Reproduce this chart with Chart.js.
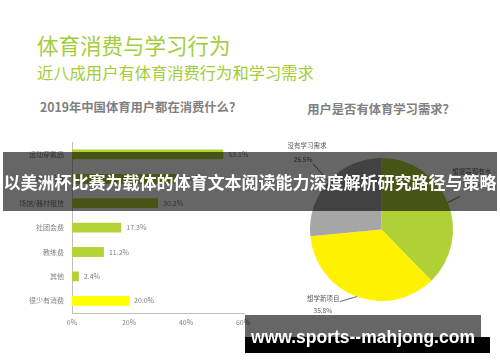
<!DOCTYPE html>
<html><head><meta charset="utf-8">
<script src="https://cdn.jsdelivr.net/npm/chart.js@4/dist/chart.umd.min.js"></script>
<style>
html,body{margin:0;padding:0;background:#fff;width:500px;height:362px;overflow:hidden;position:relative;font-family:"Noto Sans CJK SC","Noto Sans",sans-serif;}
.abs{position:absolute;white-space:nowrap;}
#t1{left:37px;top:33px;font-size:21.5px;line-height:24px;color:#a3cd3b;}
#t2{left:37px;top:63px;font-size:16.3px;line-height:19px;color:#a3cd3b;}
#bt{left:40px;top:99px;width:200px;text-align:center;font-size:12.3px;line-height:16px;font-weight:bold;color:#808080;}
#pt{left:281px;top:101px;width:200px;text-align:center;font-size:12.3px;line-height:16px;font-weight:bold;color:#808080;}
#barWrap{left:0;top:130px;width:260px;height:210px;}
#pieWrap{left:260px;top:140px;width:240px;height:180px;}
#banner{left:3px;top:152px;width:494px;height:59px;background:rgba(0,0,0,0.6);color:#fff;font-weight:bold;font-size:17px;line-height:59px;text-align:center;letter-spacing:0px;}
#wm1{left:245px;top:315px;width:236px;height:22px;background:rgba(0,0,0,0.6);}
#wm2{left:245px;top:337px;width:245px;height:16px;background:#000;}
#wmt{left:245px;top:326px;width:236px;text-align:center;color:#fff;font-family:"Liberation Sans",Arial,sans-serif;font-weight:bold;font-size:17.5px;line-height:22px;}
</style></head>
<body>
<div class="abs" id="t1">体育消费与学习行为</div>
<div class="abs" id="t2">近八成用户有体育消费行为和学习需求</div>
<div class="abs" id="bt">2019年中国体育用户都在消费什么？</div>
<div class="abs" id="pt">用户是否有体育学习需求？</div>
<div class="abs" id="barWrap"><canvas id="bar" width="260" height="210"></canvas></div>
<div class="abs" id="pieWrap"><canvas id="pie" width="240" height="180"></canvas></div>
<div class="abs" id="banner">以美洲杯比赛为载体的体育文本阅读能力深度解析研究路径与策略</div>
<div class="abs" id="wm1"></div>
<div class="abs" id="wm2"></div>
<div class="abs" id="wmt">www.sports--mahjong.com</div>
<script>
// ---- data ----
const barCategories = ['运动穿戴品','运动用具','场馆/器材租赁','社团会费','教练费','其他','很少有消费'];
const barValues = [53.1, 36.6, 30.2, 17.3, 11.2, 2.4, 20.0];
const barColors = ['#b3d236','#b3d236','#b3d236','#b3d236','#b3d236','#b3d236','#ffff00'];
const xTicks = [0, 20, 40, 60];

const pieLabels = ['想提高现有水', '想学新项目', '没有学习需求'];
const pieValues = [37.7, 35.8, 26.5];
const pieColors = ['#b0d136', '#fff200', '#a6a6a6'];

Chart.defaults.font.family = '"Noto Sans CJK SC","Noto Sans",sans-serif';

const barValuePlugin = {
  id: 'barValues',
  afterDatasetsDraw(chart) {
    const ctx = chart.ctx;
    const meta = chart.getDatasetMeta(0);
    ctx.save();
    ctx.font = '7px "Noto Sans CJK SC", sans-serif';
    ctx.fillStyle = '#7f7f7f';
    ctx.textAlign = 'left';
    ctx.textBaseline = 'middle';
    meta.data.forEach((el, i) => {
      ctx.fillText(barValues[i].toFixed(1) + '%', el.x + 5, el.y);
    });
    ctx.restore();
  }
};

new Chart(document.getElementById('bar'), {
  type: 'bar',
  data: {
    labels: barCategories,
    datasets: [{ data: barValues, backgroundColor: barColors, barPercentage: 0.4, categoryPercentage: 1 }]
  },
  options: {
    indexAxis: 'y',
    responsive: false,
    animation: false,
    layout: { padding: { top: 10, right: 17, left: 0, bottom: 0 } },
    plugins: { legend: { display: false }, tooltip: { enabled: false } },
    scales: {
      x: {
        min: 0, max: 60,
        afterBuildTicks(scale) { scale.ticks = xTicks.map(v => ({ value: v })); },
        afterFit(scale) { scale.height = 27; },
        grid: { display: false, drawTicks: false },
        border: { display: true, color: '#bfbfbf', width: 1 },
        ticks: { padding: 5, color: '#7f7f7f', font: { size: 7 }, callback: v => v + '%' }
      },
      y: {
        afterFit(scale) { scale.width = 72; },
        grid: { display: false, drawTicks: false },
        border: { display: true, color: '#bfbfbf', width: 1 },
        ticks: { padding: 8, color: '#7f7f7f', font: { size: 7 } }
      }
    }
  },
  plugins: [barValuePlugin]
});

// leader-line label offsets relative to each slice's outer mid point
const pieLabelLayout = [
  { line: [12, -6], name: [24, -31.5], pct: [24, -18.5] },
  { line: [-17, 5], name: [-33.5, 1.5], pct: [-34, 13.5] },
  { line: [-15.5, -17.5], name: [-21.5, -35.5], pct: [-25.5, -21.5] }
];

const pieLabelPlugin = {
  id: 'pieLabels',
  afterDatasetsDraw(chart) {
    const ctx = chart.ctx;
    const meta = chart.getDatasetMeta(0);
    ctx.save();
    ctx.font = '6.5px "Noto Sans CJK SC", sans-serif';
    ctx.textBaseline = 'middle';
    ctx.textAlign = 'center';
    meta.data.forEach((arc, i) => {
      const mid = (arc.startAngle + arc.endAngle) / 2;
      const ax = arc.x + Math.cos(mid) * arc.outerRadius;
      const ay = arc.y + Math.sin(mid) * arc.outerRadius;
      const L = pieLabelLayout[i];
      ctx.strokeStyle = '#404040';
      ctx.lineWidth = 0.8;
      ctx.beginPath();
      ctx.moveTo(ax, ay);
      ctx.lineTo(ax + L.line[0], ay + L.line[1]);
      ctx.stroke();
      ctx.fillStyle = '#595959';
      ctx.fillText(pieLabels[i], ax + L.name[0], ay + L.name[1]);
      ctx.fillText(pieValues[i].toFixed(1) + '%', ax + L.pct[0], ay + L.pct[1]);
    });
    ctx.restore();
  }
};

new Chart(document.getElementById('pie'), {
  type: 'pie',
  data: {
    labels: pieLabels,
    datasets: [{ data: pieValues, backgroundColor: pieColors, borderWidth: 0 }]
  },
  options: {
    responsive: false,
    animation: false,
    layout: { padding: { top: 18, bottom: 19, left: 3, right: 0 } },
    plugins: { legend: { display: false }, tooltip: { enabled: false } }
  },
  plugins: [pieLabelPlugin]
});
</script>
</body></html>
